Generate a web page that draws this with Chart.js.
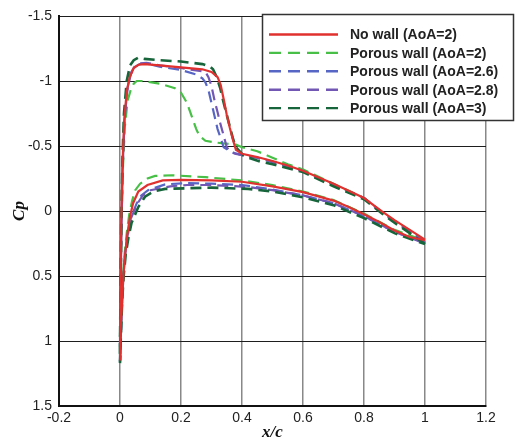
<!DOCTYPE html>
<html>
<head>
<meta charset="utf-8">
<script src="https://cdn.jsdelivr.net/npm/chart.js@4.4.0/dist/chart.umd.min.js"></script>
<style>
  html, body { margin: 0; padding: 0; background: #fff; }
</style>
</head>
<body>
<canvas id="cpChart" width="515" height="441"></canvas>
<script>
// Each curve runs from the trailing edge along the suction side to the
// stagnation point, then back along the pressure side to the trailing edge.
const noWallX = [1.0, 0.95, 0.9, 0.86, 0.84, 0.8, 0.75, 0.7, 0.65, 0.6, 0.55, 0.5, 0.45, 0.4, 0.38, 0.37, 0.36, 0.35, 0.34, 0.33, 0.32, 0.3, 0.27, 0.2, 0.13, 0.08, 0.06, 0.045, 0.032, 0.022, 0.014, 0.008, 0.004, 0.002, 0.0, 0.0,
  0.003, 0.007, 0.011, 0.017, 0.024, 0.033, 0.043, 0.06, 0.09, 0.14, 0.2, 0.3, 0.4, 0.5, 0.6, 0.7, 0.75, 0.8, 0.85, 0.9, 0.95, 1.0];
const noWallCp = [0.22, 0.145, 0.07, 0.005, -0.03, -0.1, -0.155, -0.21, -0.26, -0.31, -0.35, -0.385, -0.415, -0.44, -0.47, -0.55, -0.64, -0.74, -0.86, -0.97, -1.03, -1.07, -1.09, -1.105, -1.12, -1.13, -1.125, -1.1, -1.03, -0.92, -0.7, -0.35, 0.1, 0.6, 1.0, 1.15,
  0.95, 0.7, 0.5, 0.33, 0.18, 0.04, -0.06, -0.15, -0.2, -0.235, -0.24, -0.235, -0.225, -0.19, -0.145, -0.08, -0.03, 0.025, 0.085, 0.15, 0.2, 0.225];

const porous20X = [1.0, 0.95, 0.9, 0.86, 0.8, 0.7, 0.6, 0.55, 0.5, 0.45, 0.4, 0.38, 0.32, 0.28, 0.26, 0.25, 0.235, 0.22, 0.2, 0.18, 0.13, 0.09, 0.07, 0.055, 0.045, 0.035, 0.025, 0.016, 0.009, 0.005, 0.002, 0.0, 0.0,
  0.003, 0.006, 0.01, 0.015, 0.022, 0.03, 0.04, 0.05, 0.066, 0.09, 0.115, 0.17, 0.28, 0.4, 0.5, 0.6, 0.7, 0.8, 0.9, 1.0];
const porous20Cp = [0.23, 0.15, 0.075, 0.01, -0.1, -0.21, -0.32, -0.36, -0.41, -0.46, -0.49, -0.51, -0.525, -0.54, -0.58, -0.63, -0.73, -0.83, -0.91, -0.945, -0.98, -0.995, -1.0, -1.0, -0.98, -0.93, -0.85, -0.65, -0.3, 0.1, 0.6, 1.0, 1.15,
  0.95, 0.7, 0.5, 0.33, 0.17, 0.03, -0.08, -0.16, -0.21, -0.25, -0.27, -0.275, -0.26, -0.235, -0.2, -0.15, -0.085, 0.02, 0.145, 0.23];

const porous26X = [1.0, 0.95, 0.9, 0.86, 0.8, 0.7, 0.6, 0.5, 0.45, 0.4, 0.37, 0.355, 0.34, 0.33, 0.32, 0.305, 0.29, 0.28, 0.27, 0.25, 0.2, 0.13, 0.087, 0.065, 0.05, 0.035, 0.024, 0.015, 0.009, 0.005, 0.002, 0.0, 0.0,
  0.003, 0.007, 0.011, 0.017, 0.025, 0.036, 0.055, 0.07, 0.092, 0.148, 0.22, 0.3, 0.4, 0.5, 0.6, 0.7, 0.8, 0.9, 1.0];
const porous26Cp = [0.24, 0.16, 0.08, 0.015, -0.1, -0.2, -0.31, -0.38, -0.41, -0.43, -0.45, -0.47, -0.49, -0.56, -0.63, -0.78, -0.93, -0.99, -1.02, -1.05, -1.085, -1.11, -1.135, -1.13, -1.11, -1.05, -0.93, -0.7, -0.35, 0.1, 0.6, 1.0, 1.16,
  0.95, 0.7, 0.5, 0.33, 0.18, 0.05, -0.06, -0.12, -0.16, -0.205, -0.215, -0.21, -0.2, -0.165, -0.12, -0.06, 0.04, 0.16, 0.245];

const porous28X = [1.0, 0.95, 0.9, 0.86, 0.8, 0.7, 0.6, 0.5, 0.45, 0.4, 0.377, 0.36, 0.35, 0.34, 0.328, 0.32, 0.31, 0.3, 0.29, 0.28, 0.2, 0.13, 0.087, 0.065, 0.05, 0.035, 0.024, 0.015, 0.009, 0.005, 0.002, 0.0, 0.0,
  0.003, 0.007, 0.011, 0.017, 0.026, 0.037, 0.055, 0.075, 0.1, 0.165, 0.22, 0.3, 0.42, 0.5, 0.6, 0.7, 0.8, 0.9, 1.0];
const porous28Cp = [0.245, 0.16, 0.08, 0.015, -0.1, -0.2, -0.305, -0.375, -0.41, -0.43, -0.44, -0.46, -0.49, -0.58, -0.68, -0.76, -0.85, -0.96, -1.03, -1.07, -1.1, -1.12, -1.14, -1.135, -1.12, -1.06, -0.94, -0.7, -0.35, 0.1, 0.6, 1.0, 1.16,
  0.95, 0.7, 0.5, 0.33, 0.18, 0.05, -0.05, -0.12, -0.16, -0.19, -0.2, -0.2, -0.185, -0.16, -0.12, -0.06, 0.04, 0.16, 0.25];

const porous30X = [1.0, 0.95, 0.9, 0.86, 0.8, 0.7, 0.6, 0.5, 0.46, 0.42, 0.404, 0.38, 0.37, 0.36, 0.35, 0.338, 0.328, 0.317, 0.305, 0.295, 0.27, 0.2, 0.13, 0.08, 0.06, 0.045, 0.033, 0.022, 0.013, 0.008, 0.004, 0.002, 0.0, 0.0,
  0.003, 0.007, 0.012, 0.019, 0.028, 0.038, 0.06, 0.082, 0.11, 0.148, 0.22, 0.3, 0.42, 0.5, 0.6, 0.7, 0.8, 0.9, 1.0];
const porous30Cp = [0.255, 0.17, 0.09, 0.02, -0.09, -0.19, -0.3, -0.36, -0.38, -0.41, -0.43, -0.49, -0.56, -0.65, -0.74, -0.85, -0.95, -1.03, -1.09, -1.11, -1.13, -1.15, -1.16, -1.17, -1.18, -1.16, -1.12, -1.0, -0.75, -0.4, 0.1, 0.6, 1.0, 1.17,
  0.95, 0.7, 0.5, 0.33, 0.2, 0.09, -0.03, -0.11, -0.15, -0.17, -0.175, -0.18, -0.17, -0.15, -0.105, -0.045, 0.055, 0.17, 0.255];

const seriesLabels = ['No wall (AoA=2)', 'Porous wall (AoA=2)', 'Porous wall (AoA=2.6)', 'Porous wall (AoA=2.8)', 'Porous wall (AoA=3)'];
const seriesColors = ['#e0312f', '#48c048', '#5766c4', '#7258b4', '#17653a'];

const xTicks = [-0.2, 0, 0.2, 0.4, 0.6, 0.8, 1, 1.2];
const cpTicks = [-1.5, -1, -0.5, 0, 0.5, 1, 1.5];

function zip(xs, ys) {
  return xs.map((x, i) => ({ x: x, y: ys[i] }));
}

const dash = [11, 6];

function makeSet(i, xs, ys, solid) {
  return {
    label: seriesLabels[i],
    data: zip(xs, ys),
    borderColor: seriesColors[i],
    backgroundColor: seriesColors[i],
    borderWidth: i === 4 ? 2.6 : 2.2,
    borderDash: solid ? [] : dash,
    showLine: true,
    pointRadius: 0,
    tension: 0,
    order: i === 0 ? 0 : 5 - i
  };
}

const fmt = v => Number(v.toFixed(1)).toString();

// legend box in the upper right, drawn over the plot
const legendBox = {
  id: 'legendBox',
  afterDraw(chart) {
    const ctx = chart.ctx;
    ctx.save();
    ctx.fillStyle = '#fff';
    ctx.fillRect(262, 14, 252, 107);
    ctx.strokeStyle = '#333';
    ctx.lineWidth = 1.5;
    ctx.strokeRect(262.5, 14.5, 251, 106);
    ctx.font = 'bold 14px Arial, "Liberation Sans", sans-serif';
    ctx.textBaseline = 'middle';
    chart.data.datasets.forEach((ds, i) => {
      const y = 34.5 + i * 18.4;
      ctx.strokeStyle = ds.borderColor;
      ctx.lineWidth = 2.4;
      ctx.setLineDash(ds.borderDash.length ? [12, 7] : []);
      ctx.beginPath();
      ctx.moveTo(269, y);
      ctx.lineTo(338, y);
      ctx.stroke();
      ctx.setLineDash([]);
      ctx.fillStyle = '#222';
      ctx.fillText(ds.label, 350, y + 1);
    });
    ctx.restore();
  }
};

// axis titles in bold italic serif
const axisTitles = {
  id: 'axisTitles',
  afterDraw(chart) {
    const ctx = chart.ctx;
    const area = chart.chartArea;
    ctx.save();
    ctx.fillStyle = '#111';
    ctx.font = 'italic bold 17px "Liberation Serif", "Times New Roman", serif';
    ctx.textAlign = 'center';
    ctx.textBaseline = 'middle';
    ctx.fillText('x/c', (area.left + area.right) / 2, 433);
    ctx.translate(20, (area.top + area.bottom) / 2);
    ctx.rotate(-Math.PI / 2);
    ctx.fillText('Cp', 0, 0);
    ctx.restore();
  }
};

new Chart(document.getElementById('cpChart'), {
  type: 'scatter',
  data: {
    datasets: [
      makeSet(0, noWallX, noWallCp, true),
      makeSet(1, porous20X, porous20Cp, false),
      makeSet(2, porous26X, porous26Cp, false),
      makeSet(3, porous28X, porous28Cp, false),
      makeSet(4, porous30X, porous30Cp, false)
    ]
  },
  options: {
    responsive: false,
    animation: false,
    layout: { padding: { top: 16, right: 29, left: 0, bottom: 0 } },
    plugins: {
      legend: { display: false },
      tooltip: { enabled: false }
    },
    scales: {
      x: {
        type: 'linear',
        min: xTicks[0],
        max: xTicks[xTicks.length - 1],
        afterBuildTicks(scale) { scale.ticks = xTicks.map(v => ({ value: v })); },
        afterFit(scale) { scale.height = 35; },
        ticks: {
          callback: fmt,
          color: '#222',
          padding: 4,
          maxRotation: 0,
          font: { family: 'Arial, "Liberation Sans", sans-serif', size: 14 }
        },
        grid: { color: '#888', lineWidth: 1.5, drawTicks: false },
        border: { color: '#111', width: 2 }
      },
      y: {
        type: 'linear',
        reverse: true,
        min: cpTicks[0],
        max: cpTicks[cpTicks.length - 1],
        afterBuildTicks(scale) { scale.ticks = cpTicks.map(v => ({ value: v })); },
        afterFit(scale) { scale.width = 59; },
        ticks: {
          callback: fmt,
          color: '#222',
          padding: 7,
          font: { family: 'Arial, "Liberation Sans", sans-serif', size: 14 }
        },
        grid: { color: '#1e1e1e', lineWidth: 1, drawTicks: false },
        border: { color: '#111', width: 2 }
      }
    }
  },
  plugins: [legendBox, axisTitles]
});
</script>
</body>
</html>
